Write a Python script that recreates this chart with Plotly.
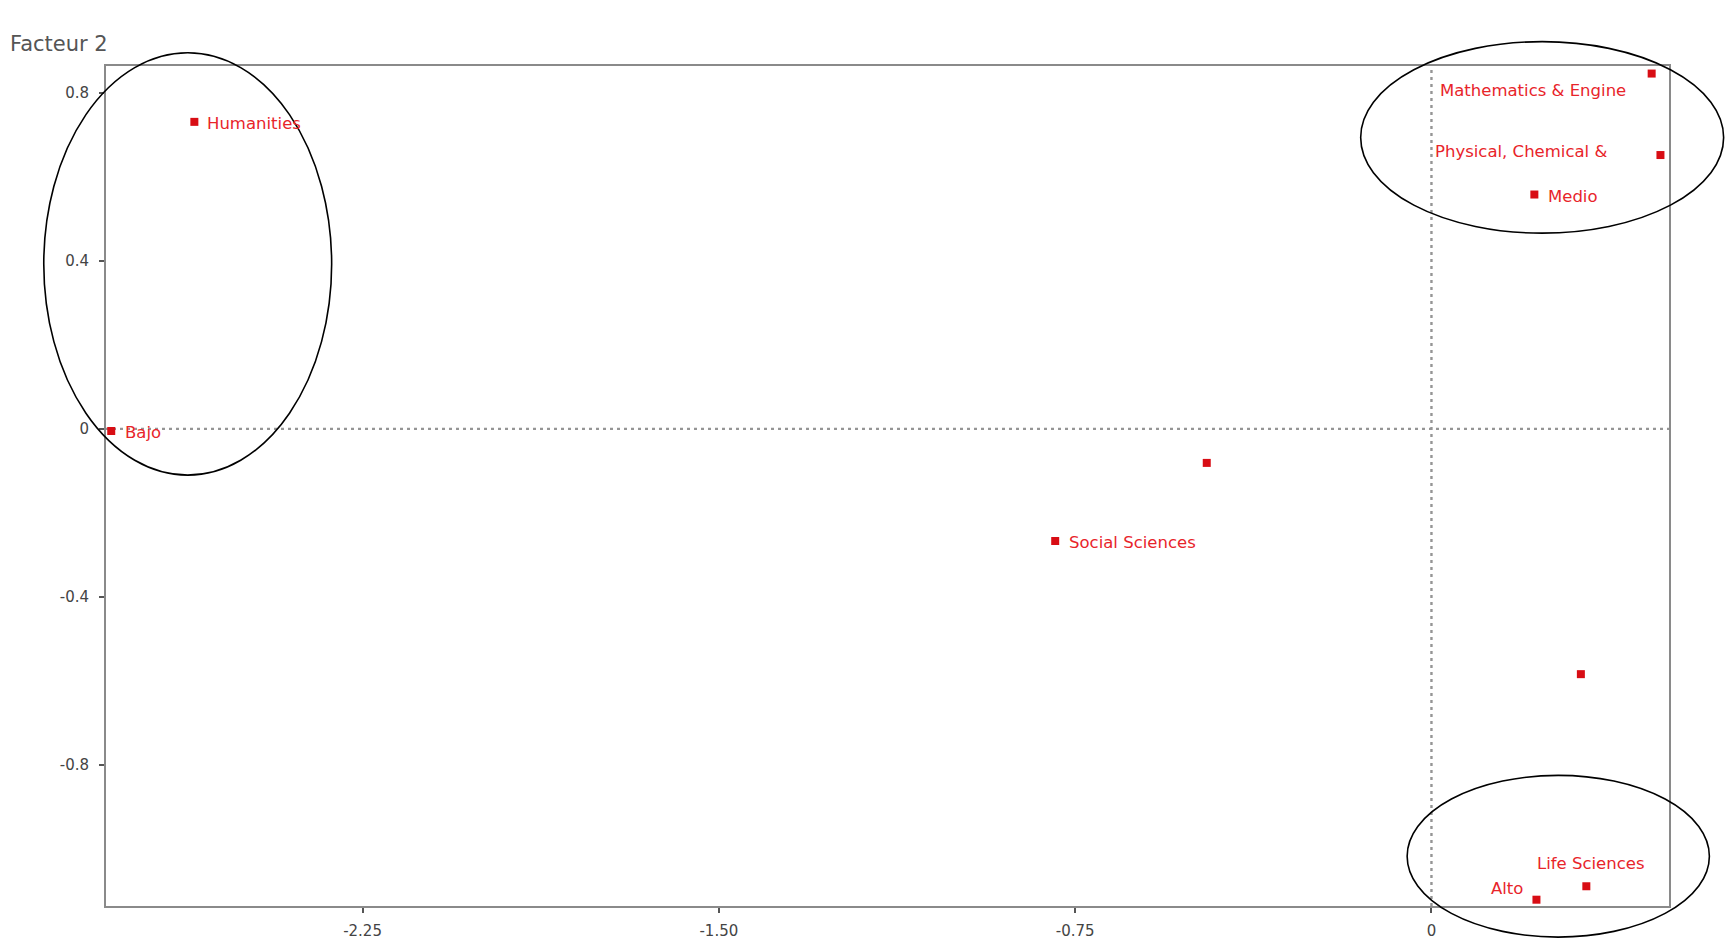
import plotly.graph_objects as go

# ---- data ----
labels = ["Humanities", "Bajo", "Mathematics & Engine", "Physical, Chemical &", "Medio",
          "", "Social Sciences", "", "Life Sciences", "Alto"]
factor1 = [-2.604, -2.779, 0.4635, 0.482, 0.2166, -0.473, -0.792, 0.3145, 0.326, 0.221]
factor2 = [0.731, -0.005, 0.846, 0.652, 0.558, -0.081, -0.267, -0.584, -1.089, -1.121]

# label placement style (anchor, xshift, yshift in px)
label_anchor = ["left", "left", "right", "right", "left", "left", "left", "left", "center", "right"]
label_dx = [11, 12, -24, -51, 12, 0, 12, 0, 5, -11]
label_dy = [-2, -2, -17, 4, -2, 0, -1, 0, 23, 11]

x_tickvals = [-2.25, -1.50, -0.75, 0]
x_ticktext = ["-2.25", "-1.50", "-0.75", "0"]
y_tickvals = [0.8, 0.4, 0, -0.4, -0.8]
y_ticktext = ["0.8", "0.4", "0", "-0.4", "-0.8"]

x_range = [-2.79, 0.50]
y_range = [-1.136, 0.864]

# highlighted groups (ellipses, in data units): x0, x1, y0, y1
ellipses = [
    (-2.921, -2.315, -0.110, 0.8955),
    (-0.149, 0.615, 0.466, 0.922),
    (-0.0512, 0.585, -1.210, -0.825),
]

RED = "#d80d14"
TXT_RED = "#e8242a"
FONT = "DejaVu Sans, Verdana, sans-serif"

fig = go.Figure()
fig.add_trace(go.Scatter(
    x=factor1, y=factor2, mode="markers",
    marker=dict(symbol="square", size=8, color=RED, line=dict(width=0)),
    hoverinfo="skip", showlegend=False,
))

annotations = []
for lab, xv, yv, anc, dx, dy in zip(labels, factor1, factor2, label_anchor, label_dx, label_dy):
    if not lab:
        continue
    annotations.append(dict(
        x=xv, y=yv, xref="x", yref="y", text=lab, showarrow=False,
        xanchor=anc, yanchor="middle", xshift=dx, yshift=dy,
        font=dict(family=FONT, size=16.5, color=TXT_RED),
    ))

annotations.append(dict(
    x=0, y=1, xref="paper", yref="paper", text="Facteur 2", showarrow=False,
    xanchor="right", yanchor="bottom", xshift=4, yshift=8,
    font=dict(family=FONT, size=21, color="#555555"),
))

shapes = [
    dict(type="line", xref="x", yref="y", x0=0, x1=0, y0=y_range[0], y1=y_range[1],
         line=dict(color="#959595", width=2.4, dash="3px,4px"), layer="below"),
    dict(type="line", xref="x", yref="y", x0=x_range[0], x1=x_range[1], y0=0, y1=0,
         line=dict(color="#959595", width=2.4, dash="3px,4px"), layer="below"),
]

def to_px(v, r):
    return (v - r[0]) / (r[1] - r[0])

for (ex0, ex1, ey0, ey1) in ellipses:
    shapes.append(dict(
        type="circle", xref="paper", yref="paper",
        x0=to_px(ex0, x_range), x1=to_px(ex1, x_range),
        y0=to_px(ey0, y_range), y1=to_px(ey1, y_range),
        line=dict(color="black", width=1.6), layer="above",
    ))

axis_common = dict(
    showline=True, linecolor="#8a8a8a", linewidth=2, mirror=True,
    showgrid=False, zeroline=False, ticks="outside", ticklen=5,
    tickcolor="#555555", tickwidth=1.5,
    tickfont=dict(family=FONT, size=15, color="#444444"),
)

fig.update_layout(
    width=1733, height=944,
    margin=dict(l=98, r=72, t=58, b=35),
    paper_bgcolor="white", plot_bgcolor="white",
    xaxis=dict(range=x_range, tickvals=x_tickvals, ticktext=x_ticktext,
               ticklabelstandoff=5, **axis_common),
    yaxis=dict(range=y_range, tickvals=y_tickvals, ticktext=y_ticktext,
               ticklabelstandoff=7, **axis_common),
    annotations=annotations, shapes=shapes,
)

fig.write_html("out.html")
